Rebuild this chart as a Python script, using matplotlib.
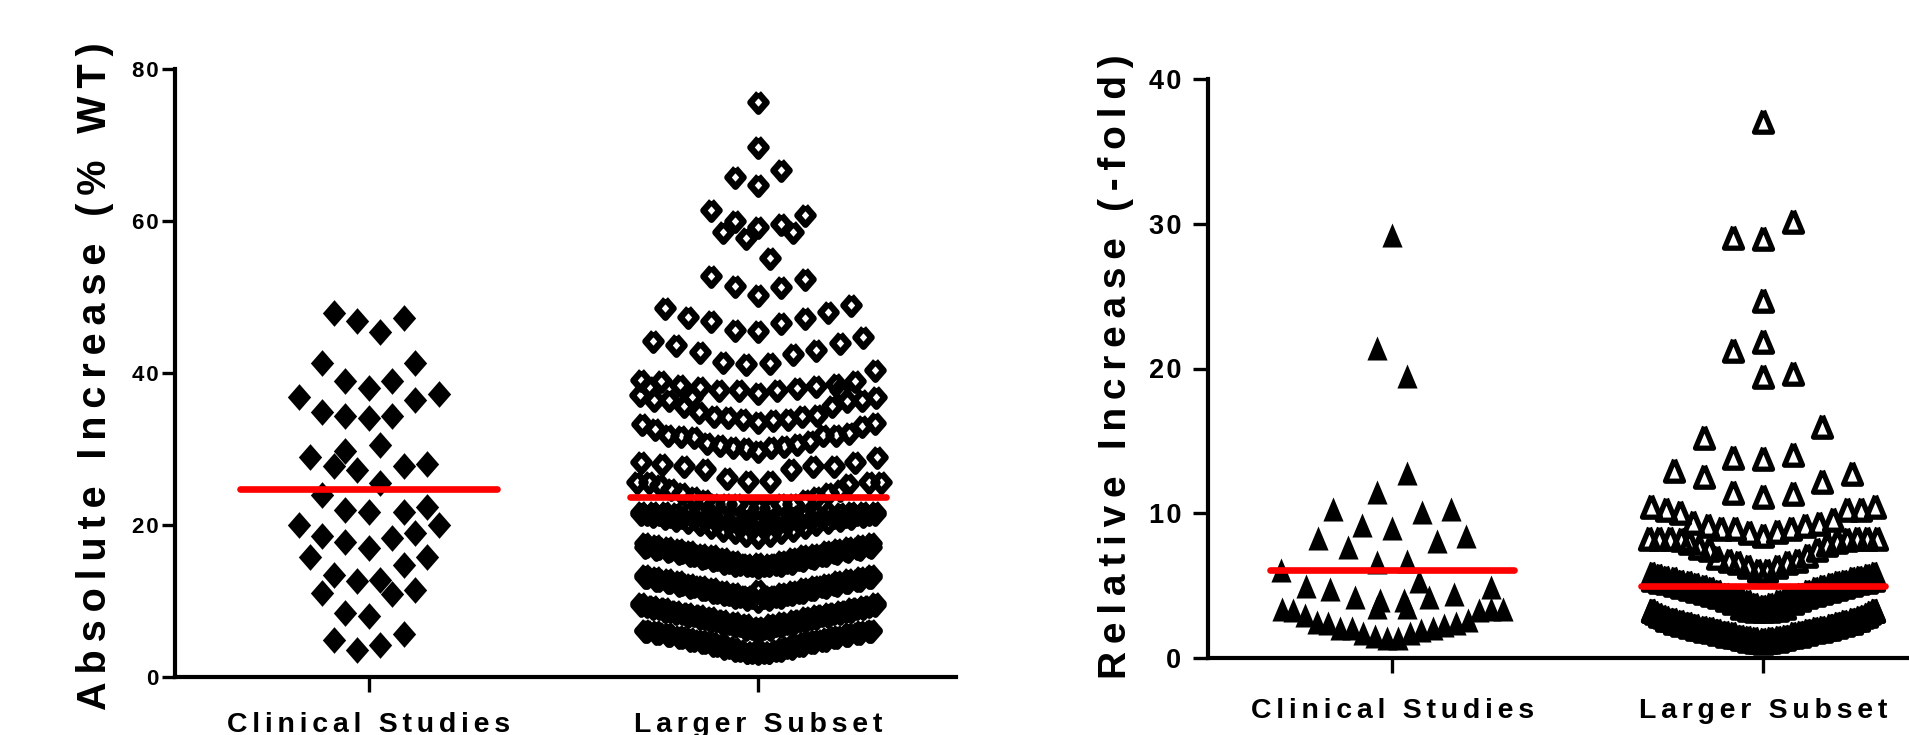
import matplotlib
matplotlib.use('Agg')
import matplotlib.pyplot as plt
from matplotlib.markers import MarkerStyle

plt.rcParams['font.family'] = ['Liberation Sans', 'DejaVu Sans']
plt.rcParams['font.weight'] = 'bold'

# x offsets are in hundredths of the distance between the two categories
categories = ['Clinical Studies', 'Larger Subset']

# --- left panel, clinical studies
abs_clin_x = [-3, -1, 1, 3, -4, 4, -2, 0, 2, -6, 6, 4, -4, -2, 0, 2, 1, -5, -2, -3, -1, 3, 5,
              1, -4, -2, 0, 3, 5, -6, 6, -4, -2, 0, 2, 4, -5, 5, 3, -3, -1, 1, 2, -4, 4, -2, 0,
              -3, -1, 1, 3]
abs_clin_y = [47.9, 46.8, 45.4, 47.3, 41.3, 41.3, 38.9, 38.0, 38.9, 36.9, 37.3, 36.4,
              34.9, 34.3, 34.1, 34.3, 30.5, 28.9, 29.8, 27.8, 27.3, 27.7, 28.0,
              25.5, 23.9, 22.0, 21.7, 21.7, 22.4, 20.0, 20.0, 18.6, 17.7, 17.0, 18.3, 19.0,
              15.8, 15.8, 14.8, 13.4, 12.6, 12.7, 10.9, 11.1, 11.5, 8.4, 8.0, 4.9, 3.5, 4.2, 5.7]
abs_clin_x = [v * 3 for v in abs_clin_x]
abs_clin_median = 24.7

# --- left panel, larger subset: separate points at the top
abs_top_x = [0, 0, -6, 0, 6, -12, -6, -9, -3, 0, 6, 9, 12, 3, -12, -6, 0, 6, 12,
             -24, -18, -12, -6, 0, 6, 12, 18, 24,
             -27, -21, -15, -9, -3, 3, 9, 15, 21, 27, 30]
abs_top_y = [75.7, 69.8, 65.8, 64.7, 66.7, 61.5, 60.0, 58.6, 57.8, 59.2, 59.6, 58.5, 60.8,
             55.1, 52.7, 51.4, 50.3, 51.3, 52.4,
             48.5, 47.4, 46.9, 45.6, 45.5, 46.6, 47.3, 48.0, 48.9,
             44.2, 43.7, 42.8, 41.4, 41.2, 41.3, 42.5, 43.0, 44.0, 44.7, 40.4]

# rows in the middle of the swarm
row_a_x = [-30, -25, -20, -15, -10, -5, 0, 5, 10, 15, 20, 25, -28, -17, 21]
row_a_y = [39.1, 38.9, 38.4, 38.1, 37.8, 37.7, 37.35, 37.7, 38.0, 38.3, 38.6, 38.9, 38.1, 36.9, 37.8]
row_b_x = [-30.4, -26.6, -22.8, -19, -15.2, -11.4, -7.6, -3.8, 0, 3.8, 7.6, 11.4, 15.2, 19, 22.8, 26.6, 30.4]
row_b_y = [37.1, 36.5, 36.5, 35.6, 34.85, 34.3, 34.15, 33.9, 33.5, 33.8, 33.9, 34.3, 34.5, 35.6, 36.3, 36.5, 36.9]
row_c_x = [-29.9, -26.5, -23.2, -19.9, -16.5, -13.2, -9.8, -6.5, -3.1, 0, 3.3, 6.7, 10, 13.3, 16.7, 20, 23.4, 26.7, 30]
row_c_y = [33.3, 32.6, 31.9, 31.7, 31.6, 30.8, 30.55, 30.2, 30.1, 29.75, 30.2, 30.4, 30.7, 31.1, 31.8, 31.9, 32.1, 33.0, 33.4]
row_d_x = [-30.1, -24.6, -19, -13.5, -8, -2.5, 3, 8.5, 14.1, 19.6, 25, 30.6]
row_d_y = [28.35, 28.05, 27.7, 27.4, 26.25, 25.85, 25.85, 27.4, 27.7, 27.8, 28.35, 28.9]
row_e_x = [-31, -28, -25.2, -22.3, -19.4, -16.5, -13.6, -11.3, -8.25, -5.4, -2.6, 0.3, 3, 5.9, 9,
           12, 15, 18, 21, 23, 28.6, 31.7]
row_e_y = [25.6, 25.6, 25.2, 24.7, 24.2, 23.75, 23.3, 22.8, 22.8, 22.8, 22.2, 22.2, 22.2, 22.8, 22.8,
           23.3, 23.75, 24.2, 24.6, 25.4, 25.6, 25.7]

# the packed rows near the axis: upper arc, lower arc and a staggered arc between them
wide_x = [-30, -27, -24, -21, -18, -15, -12, -9, -6, -3, 0, 3, 6, 9, 12, 15, 18, 21, 24, 27, 30]
narrow_x = [-29, -26.1, -23.2, -20.3, -17.4, -14.5, -11.6, -8.7, -5.8, -2.9, 0, 2.9, 5.8, 8.7, 11.6, 14.5, 17.4, 20.3, 23.2, 26.1, 29]
mid_x = [-28.5, -25.5, -22.5, -19.5, -16.5, -13.5, -10.5, -7.5, -4.5, -1.5, 1.5, 4.5, 7.5, 10.5, 13.5, 16.5, 19.5, 22.5, 25.5, 28.5]
pack1_up = [21.75, 21.75, 21.7, 21.6, 21.55, 21.45, 21.3, 21.2, 21.0, 20.85, 20.65, 20.85, 21.0, 21.2, 21.3, 21.45, 21.55, 21.6, 21.7, 21.75, 21.75]
pack1_lo = [21.4, 21.15, 20.9, 20.65, 20.4, 20.1, 19.8, 19.4, 19.1, 18.7, 18.45, 18.7, 19.1, 19.4, 19.8, 20.1, 20.4, 20.65, 20.9, 21.15, 21.4]
pack1_mid = [21.5, 21.4, 21.2, 21.05, 20.9, 20.65, 20.4, 20.2, 19.9, 19.65, 19.65, 19.9, 20.2, 20.4, 20.65, 20.9, 21.05, 21.2, 21.4, 21.5]
pack2_up = [17.6, 17.4, 17.15, 16.85, 16.6, 16.25, 16.0, 15.6, 15.25, 14.85, 14.5, 14.85, 15.25, 15.6, 16.0, 16.25, 16.6, 16.85, 17.15, 17.4, 17.6]
pack2_lo = [17.15, 16.9, 16.6, 16.3, 16.0, 15.65, 15.35, 15.0, 14.75, 14.75, 14.95, 14.75, 14.75, 15.0, 15.35, 15.65, 16.0, 16.3, 16.6, 16.9, 17.15]
pack2_mid = [17.3, 17.0, 16.75, 16.45, 16.1, 15.8, 15.5, 15.15, 14.9, 14.75, 14.75, 14.9, 15.15, 15.5, 15.8, 16.1, 16.45, 16.75, 17.0, 17.3]
pack3_up = [13.4, 13.15, 12.9, 12.6, 12.3, 12.0, 11.65, 11.35, 11.0, 10.6, 11.45, 10.6, 11.0, 11.35, 11.65, 12.0, 12.3, 12.6, 12.9, 13.15, 13.4]
pack3_lo = [13.1, 12.75, 12.45, 12.15, 11.85, 11.55, 11.2, 10.9, 10.55, 10.25, 10.0, 10.25, 10.55, 10.9, 11.2, 11.55, 11.85, 12.15, 12.45, 12.75, 13.1]
pack3_mid = [13.1, 12.8, 12.55, 12.25, 11.95, 11.6, 11.25, 10.95, 10.6, 10.5, 10.5, 10.6, 10.95, 11.25, 11.6, 11.95, 12.25, 12.55, 12.8, 13.1]
pack4_up = [9.7, 9.4, 9.05, 8.75, 8.45, 8.15, 7.85, 7.55, 7.25, 6.95, 6.6, 6.95, 7.25, 7.55, 7.85, 8.15, 8.45, 8.75, 9.05, 9.4, 9.7]
pack4_lo = [9.45, 9.1, 8.75, 8.4, 8.05, 7.7, 7.35, 7.0, 6.65, 6.3, 5.95, 6.3, 6.65, 7.0, 7.35, 7.7, 8.05, 8.4, 8.75, 9.1, 9.45]
pack4_mid = [9.4, 9.1, 8.75, 8.4, 8.1, 7.75, 7.45, 7.1, 6.8, 6.45, 6.45, 6.8, 7.1, 7.45, 7.75, 8.1, 8.4, 8.75, 9.1, 9.4]
pack5_up = [6.25, 6.05, 5.8, 5.45, 5.15, 4.85, 4.55, 4.2, 3.85, 3.3, 3.75, 3.3, 3.85, 4.2, 4.55, 4.85, 5.15, 5.45, 5.8, 6.05, 6.25]
pack5_lo = [6.1, 5.8, 5.55, 5.25, 4.9, 4.55, 4.2, 3.85, 3.55, 3.3, 3.1, 3.3, 3.55, 3.85, 4.2, 4.55, 4.9, 5.25, 5.55, 5.8, 6.1]
pack5_mid = [6.05, 5.8, 5.5, 5.2, 4.85, 4.55, 4.2, 3.9, 3.5, 3.35, 3.35, 3.5, 3.9, 4.2, 4.55, 4.85, 5.2, 5.5, 5.8, 6.05]
abs_larger_median = 23.7

# --- right panel, clinical studies
rel_clin_x = [0, -4, 4, 4, -4, -16, 8, 16, -8, 0, -20, -12, 12, 20, -4, 4,
              -30, -23.3, -16.7, 7.2, -10, 9.9, 16.6, 26.6, -3.3, -4, 3.3, 4,
              -29.7, -26.6, -23.4, -20.3, -17.2, -14, -10.9, -7.8, -4.7, -1.5,
              1.6, 4.7, 7.9, 11, 14.1, 17.2, 20.4, 23.5, 26.6, 29.8]
rel_clin_y = [29.2, 21.4, 19.5, 12.8, 11.5, 10.3, 10.1, 10.3, 9.2, 9.0, 8.3, 7.7, 8.1, 8.4, 6.6, 6.7,
              6.05, 5.0, 4.8, 5.3, 4.2, 4.2, 4.4, 4.9, 4.0, 3.5, 4.0, 3.5,
              3.4, 3.3, 3.0, 2.5, 2.4, 2.1, 2.1, 1.7, 1.5, 1.4,
              1.4, 1.7, 1.9, 2.1, 2.3, 2.4, 2.6, 3.3, 3.4, 3.4]
rel_clin_median = 6.05

# --- right panel, larger subset
rel_top_x = [0, -8, 0, 8, 0, -8, 0, 0, 8, 15.9, -16, -8, 0, 8, -23.9, -16, 15.9, 24, -8, 0, 8]
rel_top_y = [37.1, 29.1, 29.0, 30.2, 24.7, 21.3, 21.9, 19.5, 19.7, 16.05, 15.3, 13.9, 13.8, 14.1,
             13.0, 12.6, 12.2, 12.8, 11.5, 11.2, 11.4]
rel_row1_x = [-30.2, -26.2, -22.3, -18.9, -14.9, -11.3, -7.5, -3.8, 0, 3.8, 7.6, 11.4, 15.2, 18.9, 22.6, 26.4, 30.3]
rel_row1_y = [10.5, 10.3, 10.1, 9.4, 9.2, 9.0, 9.0, 8.7, 8.5, 8.8, 9.0, 9.2, 9.3, 9.6, 10.3, 10.3, 10.5]
rel_row2_x = [-30.8, -27.9, -25.1, -22.2, -20, -17.3, -14.6, -12.4, -9.2, -6.6, -3.9, -1.2,
              1.1, 3.8, 6.5, 9.2, 11.9, 14.5, 17.2, 19.9, 22.6, 25.3, 28, 30.7]
rel_row2_y = [8.3, 8.3, 8.3, 8.2, 8.0, 7.7, 7.5, 7.0, 6.8, 6.6, 6.35, 6.1,
              6.1, 6.35, 6.6, 6.8, 7.15, 7.5, 7.85, 8.05, 8.2, 8.3, 8.3, 8.3]
band_x = [-30, -28, -26, -24, -22, -20, -18, -16, -14, -12, -10, -8, -6, -4, -2, 0,
          2, 4, 6, 8, 10, 12, 14, 16, 18, 20, 22, 24, 26, 28, 30]
band_mid_x = [-29, -27, -25, -23, -21, -19, -17, -15, -13, -11, -9, -7, -5, -3, -1,
              1, 3, 5, 7, 9, 11, 13, 15, 17, 19, 21, 23, 25, 27, 29]
band1_up = [5.85, 5.75, 5.6, 5.5, 5.35, 5.25, 5.1, 5.0, 4.85, 4.65, 4.45, 4.3, 4.1, 3.95, 3.75, 3.6,
            3.75, 3.95, 4.1, 4.3, 4.45, 4.65, 4.85, 5.0, 5.1, 5.25, 5.35, 5.5, 5.6, 5.75, 5.85]
band1_lo = [5.45, 5.35, 5.25, 5.1, 5.0, 4.85, 4.7, 4.55, 4.4, 4.25, 4.05, 3.85, 3.55, 3.4, 3.35, 3.35,
            3.35, 3.4, 3.55, 3.85, 4.05, 4.25, 4.4, 4.55, 4.7, 4.85, 5.0, 5.1, 5.25, 5.35, 5.45]
band1_mid = [5.6, 5.5, 5.35, 5.25, 5.1, 5.0, 4.85, 4.7, 4.55, 4.35, 4.15, 3.95, 3.75, 3.6, 3.5,
             3.5, 3.6, 3.75, 3.95, 4.15, 4.35, 4.55, 4.7, 4.85, 5.0, 5.1, 5.25, 5.35, 5.5, 5.6]
band2_up = [3.3, 3.05, 2.85, 2.7, 2.55, 2.4, 2.3, 2.15, 2.05, 1.95, 1.8, 1.7, 1.55, 1.45, 1.35, 1.3,
            1.35, 1.45, 1.55, 1.7, 1.8, 1.95, 2.05, 2.15, 2.3, 2.4, 2.55, 2.7, 2.85, 3.05, 3.3]
band2_lo = [3.35, 2.95, 2.7, 2.5, 2.35, 2.2, 2.05, 1.95, 1.85, 1.75, 1.6, 1.5, 1.35, 1.25, 1.15, 1.1,
            1.15, 1.25, 1.35, 1.5, 1.6, 1.75, 1.85, 1.95, 2.05, 2.2, 2.35, 2.5, 2.7, 2.95, 3.35]
band2_mid = [3.15, 2.9, 2.7, 2.5, 2.4, 2.25, 2.1, 2.0, 1.9, 1.8, 1.65, 1.55, 1.4, 1.3, 1.2,
             1.2, 1.3, 1.4, 1.55, 1.65, 1.8, 1.9, 2.0, 2.1, 2.25, 2.4, 2.5, 2.7, 2.9, 3.15]
rel_larger_median = 4.95

abs_ticks = [0, 20, 40, 60, 80]
rel_ticks = [0, 10, 20, 30, 40]

W, H = 1909, 735
DPI = 100


def spaced(text, sep='\u200a'):
    # the original has wide letter spacing
    return sep.join(text)


def place_axes(fig, left, right, top, bottom):
    return fig.add_axes([left / W, 1 - bottom / H, (right - left) / W, (bottom - top) / H])


diamond = [(0, 1), (0.875, 0), (0, -1), (-0.875, 0), (0, 1)]
triangle = [(0, 1), (-0.84, -1), (0.84, -1), (0, 1)]


def solid(ax, cat, xs, ys, verts, size):
    ax.plot([cat + v / 100 for v in xs], ys, ls='none', clip_on=False, zorder=3,
            marker=MarkerStyle(verts, joinstyle='miter'), ms=size, mfc='black', mec='black', mew=0)


def hollow(ax, cat, xs, ys, verts, size, edge, join, face='none'):
    ax.plot([cat + v / 100 for v in xs], ys, ls='none', clip_on=False, zorder=3,
            marker=MarkerStyle(verts, joinstyle=join), ms=size, mfc=face, mec='black', mew=edge)


def median_line(ax, cat, value):
    ax.plot([cat - 0.33, cat + 0.33], [value, value], color='#ff0000', lw=4.8,
            solid_capstyle='round', zorder=5, clip_on=False)


def style_axes(ax, ticks, ymax, ysize, ypad, ylen, xsize, xpad):
    ax.set_ylim(0, ymax)
    ax.set_yticks(ticks)
    ax.set_yticklabels([spaced(str(t)) for t in ticks], fontsize=ysize, fontweight='bold')
    ax.set_xticks([1, 2])
    ax.set_xticklabels([spaced(c, '\u200a\u200a') for c in categories], fontsize=xsize, fontweight='bold')
    ax.tick_params(axis='y', length=ylen, width=2.4, pad=ypad)
    ax.tick_params(axis='x', length=11, width=2.4, pad=xpad)
    for s in ['top', 'right']:
        ax.spines[s].set_visible(False)
    for s in ['left', 'bottom']:
        ax.spines[s].set_linewidth(3.0)
    ax.patch.set_visible(False)


fig = plt.figure(figsize=(W / DPI, H / DPI), dpi=DPI)

# left panel
ax1 = place_axes(fig, 175, 956, 69, 677)
ax1.set_xlim(0.5024, 2.5086)
style_axes(ax1, abs_ticks, 80, 16, 2.5, 9.4, 20.5, 14.5)
solid(ax1, 1, abs_clin_x, abs_clin_y, diamond, 19.2)
abs_rows = [(abs_top_x, abs_top_y), (row_a_x, row_a_y), (row_b_x, row_b_y), (row_c_x, row_c_y),
            (row_d_x, row_d_y), (row_e_x, row_e_y),
            (wide_x, pack1_up), (wide_x, pack1_lo), (narrow_x, pack2_up), (narrow_x, pack2_lo),
            (narrow_x, pack3_up), (narrow_x, pack3_lo), (wide_x, pack4_up), (wide_x, pack4_lo),
            (narrow_x, pack5_up), (narrow_x, pack5_lo)]
for xs, ys in abs_rows:
    hollow(ax1, 2, xs, ys, diamond, 13.2, 4.7, 'miter')
for ys in [pack1_mid, pack2_mid, pack3_mid, pack4_mid, pack5_mid]:
    hollow(ax1, 2, mid_x, ys, diamond, 13.2, 4.7, 'miter', face='black')
median_line(ax1, 1, abs_clin_median)
median_line(ax1, 2, abs_larger_median)

# right panel
ax2 = place_axes(fig, 1208, 1909, 79, 658)
ax2.set_xlim(0.5035, 2.394)
style_axes(ax2, rel_ticks, 40, 19.5, 8.6, 10.8, 20.5, 18)
solid(ax2, 1, rel_clin_x, rel_clin_y, triangle, 17.3)
rel_rows = [(rel_top_x, rel_top_y), (rel_row1_x, rel_row1_y), (rel_row2_x, rel_row2_y),
            (band_x, band1_up), (band_x, band1_lo)]
for xs, ys in rel_rows:
    hollow(ax2, 2, xs, ys, triangle, 15.4, 3.8, 'round')
for xs, ys in [(band_mid_x, band1_mid), (band_x, band2_up), (band_x, band2_lo), (band_mid_x, band2_mid)]:
    hollow(ax2, 2, xs, ys, triangle, 15.4, 3.8, 'round', face='black')
median_line(ax2, 1, rel_clin_median)
median_line(ax2, 2, rel_larger_median)

# y titles are placed by hand, they are far from the ticks
fig.text(95 / W, 1 - 376 / H, spaced('Absolute Increase (% WT)', '\u2009'), rotation=90,
         ha='center', va='center', fontsize=28.5, fontweight='bold')
fig.text(1116 / W, 1 - 367 / H, spaced('Relative Increase (-fold)', '\u2009'), rotation=90,
         ha='center', va='center', fontsize=28, fontweight='bold')

fig.savefig('out.png', dpi=DPI)
